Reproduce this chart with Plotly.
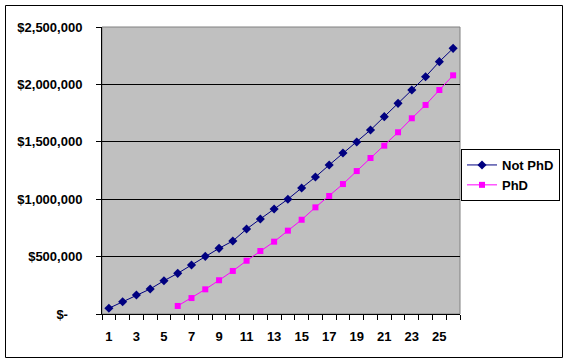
import plotly.graph_objects as go

years = list(range(1, 27))
not_phd = [50000, 107000, 165000, 218000, 290000, 354000, 427000, 502000, 572000, 636000,
           740000, 828000, 915000, 1000000, 1098000, 1193000, 1298000, 1402000, 1498000, 1603000,
           1719000, 1835000, 1951000, 2067000, 2198000, 2314000]
phd_years = list(range(6, 27))
phd = [70000, 139000, 215000, 294000, 375000, 464000, 549000, 630000, 726000, 821000,
       929000, 1028000, 1132000, 1245000, 1359000, 1466000, 1583000, 1705000, 1821000, 1951000, 2079000]
y_ticks = [0, 500000, 1000000, 1500000, 2000000, 2500000]
y_labels = ["$-\u00a0\u00a0\u00a0\u00a0", "$500,000", "$1,000,000", "$1,500,000", "$2,000,000", "$2,500,000"]
x_labels = [str(v) for v in range(1, 27, 2)]

FONT = "Liberation Sans, Arial, sans-serif"

fig = go.Figure()
fig.add_trace(go.Scatter(x=years, y=not_phd, name="Not PhD", mode="lines+markers",
                         line=dict(color="#000080", width=1),
                         marker=dict(symbol="diamond", size=7, color="#000080")))
fig.add_trace(go.Scatter(x=phd_years, y=phd, name="PhD", mode="lines+markers",
                         line=dict(color="#FF00FF", width=1),
                         marker=dict(symbol="square", size=6, color="#FF00FF")))

L, R, T, B = 102, 460, 27, 314
W, H = 569, 363
pw, ph = R - L, B - T

fig.update_layout(
    width=W, height=H,
    margin=dict(l=L, r=W - R, t=T, b=H - B, autoexpand=False),
    paper_bgcolor="white", plot_bgcolor="#C0C0C0",
    font=dict(family=FONT, size=13, color="black", weight="bold"),
    showlegend=True,
    legend=dict(x=(560 - L) / pw, y=(B - 149) / ph, xanchor="right", yanchor="top",
                bordercolor="black", borderwidth=1, bgcolor="white",
                font=dict(family=FONT, size=13, color="black", weight="bold"),
                itemwidth=30, tracegroupgap=0),
    xaxis=dict(range=[0.5, 26.5], tickvals=list(range(1, 27, 2)), ticktext=x_labels,
               ticks="", showgrid=False, zeroline=False, showline=True, linecolor="black",
               linewidth=1, ticklabelstandoff=10,
               minor=dict(tickvals=[v + 0.5 for v in range(0, 27)], ticks="outside",
                          ticklen=5, tickcolor="black", showgrid=False),
               tickfont=dict(family=FONT, size=13, color="black", weight="bold")),
    yaxis=dict(range=[0, 2500000], tickvals=y_ticks, ticktext=y_labels,
               ticks="outside", ticklen=5, tickcolor="black", showgrid=True,
               gridcolor="black", gridwidth=1, zeroline=False, showline=True,
               linecolor="black", linewidth=1, ticklabelstandoff=11,
               tickfont=dict(family=FONT, size=13, color="black", weight="bold")),
    shapes=[
        dict(type="rect", xref="paper", yref="paper", x0=0, x1=1, y0=0, y1=1,
             line=dict(color="#808080", width=1), layer="below"),
        dict(type="rect", xref="paper", yref="paper",
             x0=(5.5 - L) / pw, x1=(562.5 - L) / pw, y0=(B - 357.5) / ph, y1=(B - 5.5) / ph,
             line=dict(color="black", width=1), fillcolor="rgba(0,0,0,0)", layer="above"),
    ],
)

fig.write_html("out.html", config={"displayModeBar": False},
               post_script="document.body.style.margin='0';")
